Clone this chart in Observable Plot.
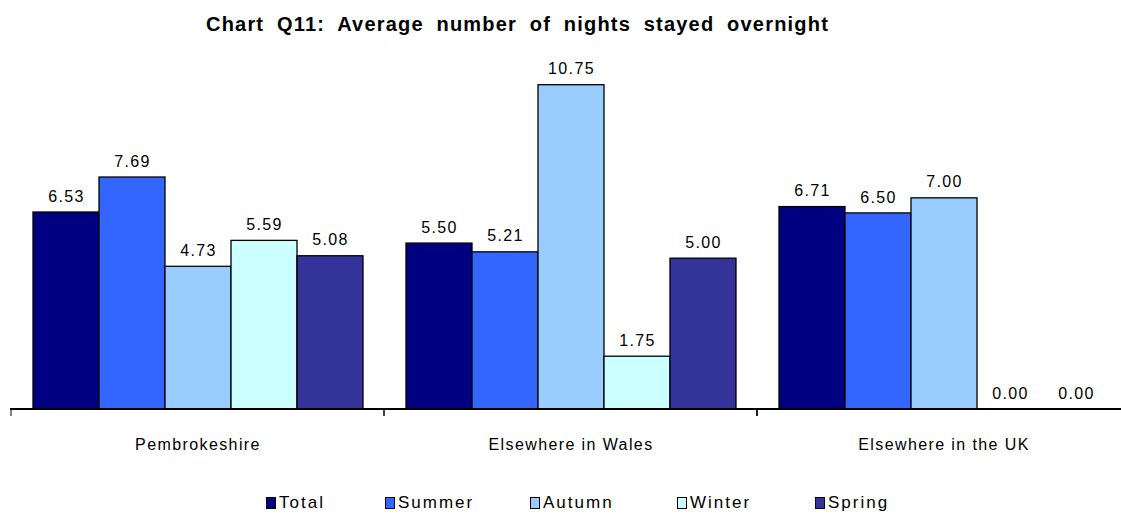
<!DOCTYPE html>
<html>
<head>
<meta charset="utf-8">
<script src="https://cdn.jsdelivr.net/npm/d3@7"></script>
<script src="https://cdn.jsdelivr.net/npm/@observablehq/plot@0.6"></script>
<style>
  html, body { margin: 0; padding: 0; background: #fff; overflow: hidden; }
  body { width: 1121px; height: 513px; position: relative; font-family: "Liberation Sans", Arial, sans-serif; }
  #title { position: absolute; left: 206px; top: 12px; font-size: 20px; line-height: 24px; font-weight: bold; letter-spacing: 1.2px; word-spacing: 6px; white-space: nowrap; color: #000; }
  #chart { position: absolute; left: 0; top: 40px; }
  #chart svg text { letter-spacing: 1.4px; }
  #legend { position: absolute; left: 0; top: 493px; width: 1121px; height: 20px; font-size: 17px; line-height: 20px; letter-spacing: 2px; color: #000; }
  #legend .item { position: absolute; top: 0; display: flex; align-items: center; gap: 3px; white-space: nowrap; }
  #legend .sw { width: 8px; height: 10px; border: 1px solid #000; box-sizing: content-box; }
</style>
</head>
<body>
<div id="title">Chart Q11: Average number of nights stayed overnight</div>
<div id="chart"></div>
<div id="legend"></div>
<script>
// Where the nights were spent, and the season of the visit
const regions = ["Pembrokeshire", "Elsewhere in Wales", "Elsewhere in the UK"];
const seasons = ["Total", "Summer", "Autumn", "Winter", "Spring"];
const seasonColors = ["#000080", "#3366FF", "#99CCFF", "#CCFFFF", "#333399"];

// Average nights per season, one list per region (order follows `seasons`)
const pembrokeshire = [6.53, 7.69, 4.73, 5.59, 5.08];
const elsewhereWales = [5.50, 5.21, 10.75, 1.75, 5.00];
const elsewhereUK = [6.71, 6.50, 7.00, 0.00, 0.00];

const valuesByRegion = [pembrokeshire, elsewhereWales, elsewhereUK];
const data = regions.flatMap((region, i) =>
  seasons.map((season, j) => ({region, season, value: valuesByRegion[i][j]}))
);

// Baseline with small ticks at the boundaries between regions
const baseAxis = (index, scales) => {
  const g = d3.create("svg:g");
  const y0 = scales.y(0);
  const step = scales.fx.bandwidth ? scales.fx.bandwidth() : 0;
  const edges = regions.map(r => scales.fx(r)).concat([scales.fx(regions[regions.length - 1]) + step]);
  g.append("line")
    .attr("x1", edges[0] - 1).attr("x2", edges[edges.length - 1])
    .attr("y1", y0).attr("y2", y0)
    .attr("stroke", "#000").attr("stroke-width", 2);
  g.selectAll("line.tick").data(edges).join("line")
    .attr("class", "tick")
    .attr("x1", d => d).attr("x2", d => d)
    .attr("y1", y0).attr("y2", y0 + 7)
    .attr("stroke", "#000").attr("stroke-width", 1);
  return g.node();
};

const chart = Plot.plot({
  width: 1140,
  height: 440,
  marginLeft: 11,
  marginRight: 10,
  marginTop: 7,
  marginBottom: 71,
  style: {fontFamily: "'Liberation Sans', Arial, sans-serif", background: "#fff", overflow: "visible", maxWidth: "none"},
  fx: {domain: regions, padding: 0, label: null},
  x: {domain: seasons, paddingInner: 0, paddingOuter: 0.3, axis: null},
  y: {domain: [0, 12], axis: null},
  color: {domain: seasons, range: seasonColors},
  marks: [
    Plot.barY(data, {fx: "region", x: "season", y: "value", fill: "season", stroke: "#000", strokeWidth: 1.3}),
    Plot.text(data, {
      fx: "region", x: "season", y: "value",
      text: d => d.value.toFixed(2),
      dy: -16, fontSize: 16, fill: "#000"
    }),
    Plot.axisFx({anchor: "bottom", tickSize: 0, tickPadding: 29, fontSize: 16, label: null}),
    baseAxis
  ]
});
document.getElementById("chart").append(chart);

// Legend, one entry per season
const legendLefts = [266, 385, 530, 677, 815];
const legend = d3.select("#legend");
seasons.forEach((s, i) => {
  const item = legend.append("div").attr("class", "item").style("left", legendLefts[i] + "px");
  item.append("div").attr("class", "sw").style("background", seasonColors[i]);
  item.append("span").text(s);
});
</script>
</body>
</html>
